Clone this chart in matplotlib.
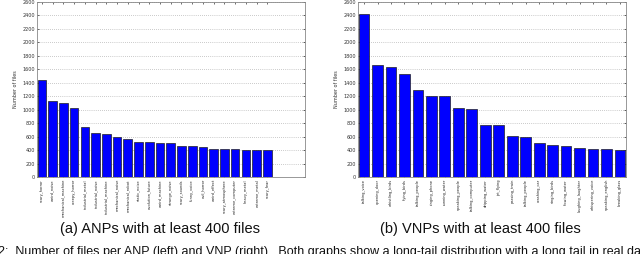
import matplotlib
matplotlib.use("Agg")
import matplotlib.pyplot as plt
import numpy as np

anp_labels = ["scary_horror", "weird_noise", "mechanical_machine", "creepy_horror",
              "industrial_metal", "industrial_noise", "industrial_machine", "mechanical_noise",
              "mechanical_robot", "static_noise", "evolution_future", "weird_machine",
              "strange_noise", "scary_sounds", "funny_voice", "evil_horror", "weird_effect",
              "scary_atmosphere", "extreme_computer", "heavy_metal", "extreme_metal", "scary_fear"]
anp_values = [1440, 1130, 1100, 1030, 750, 650, 645, 600, 560, 525, 520, 500, 500,
              460, 455, 440, 420, 420, 410, 400, 400, 400]

vnp_labels = ["talking_voice", "opening_door", "whistling_birds", "flying_birds",
              "talking_people", "ringing_phone", "running_water", "speaking_people",
              "talking_computer", "dripping_water", "jet_flying", "passing_train",
              "talking_people", "crashing_car", "singing_birds", "flowing_water",
              "laughing_laughter", "whispering_voice", "speaking_english", "breaking_glass"]
vnp_values = [2420, 1660, 1640, 1530, 1290, 1210, 1200, 1030, 1010, 780, 770,
              610, 600, 500, 480, 460, 430, 415, 410, 405]

yticks = list(range(0, 2601, 200))

W, H = 640, 254
fig = plt.figure(figsize=(W / 100, H / 100), dpi=100)

def panel(rect, labels, values, xlim, caption, cx):
    ax = fig.add_axes(rect)
    x = np.arange(1, len(values) + 1)
    ax.bar(x, values, width=0.8, color="#0000ff", edgecolor="#202020", linewidth=0.5, zorder=3)
    ax.set_xlim(*xlim)
    ax.set_ylim(0, 2600)
    ax.set_yticks(yticks)
    ax.set_yticklabels([str(v) for v in yticks], fontsize=3.5, color="#333333")
    ax.set_xticks(x)
    ax.set_xticklabels(labels, rotation=90, fontsize=2.6, color="#222222", va="top")
    ax.tick_params(direction="in", length=1.5, width=0.4, top=True, right=True, pad=1.5)
    ax.yaxis.grid(True, linestyle=(0, (1, 2)), color="#999999", linewidth=0.5, zorder=0)
    ax.set_axisbelow(True)
    for s in ax.spines.values():
        s.set_linewidth(0.6)
        s.set_color("#888888")
    ax.set_ylabel("Number of files", fontsize=3.5, labelpad=3, color="#333333")
    fig.text(cx / W, 1 - 229 / H, caption, fontsize=10.5, family="Liberation Sans",
             ha="center", va="center", color="#111111")
    return ax

panel([37 / W, 1 - 177 / H, 268 / W, 175 / H], anp_labels, anp_values, (0.55, 25.5),
      "(a) ANPs with at least 400 files", 160)
panel([358 / W, 1 - 177 / H, 268 / W, 175 / H], vnp_labels, vnp_values, (0.55, 20.45),
      "(b) VNPs with at least 400 files", 480)

fig.text(-2 / W, 1 - 258 / H,
         "2:  Number of files per ANP (left) and VNP (right).  Both graphs show a long-tail distribution with a long tail in real data as expected.  However, it",
         fontsize=9, family="Liberation Sans", ha="left", va="bottom", color="#111111")

fig.savefig("out.png", dpi=100)
